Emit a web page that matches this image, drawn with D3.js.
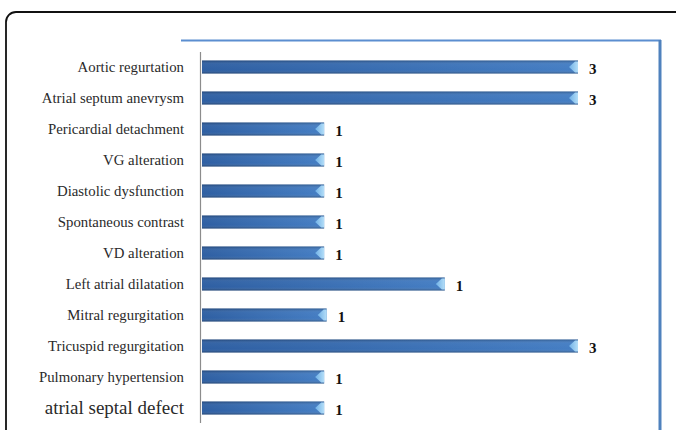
<!DOCTYPE html>
<html>
<head>
<meta charset="utf-8">
<script src="https://cdn.jsdelivr.net/npm/d3@7"></script>
<style>
  body { margin: 0; background: #fff; }
  svg { display: block; }
</style>
</head>
<body>
<div id="chart"></div>
<script>
// data (bar lengths and the numbers printed beside them)
var categories = [
  "Aortic regurtation",
  "Atrial septum anevrysm",
  "Pericardial detachment",
  "VG alteration",
  "Diastolic dysfunction",
  "Spontaneous contrast",
  "VD alteration",
  "Left atrial dilatation",
  "Mitral regurgitation",
  "Tricuspid regurgitation",
  "Pulmonary hypertension",
  "atrial septal defect"
];
var barValues = [3, 3, 0.98, 0.98, 0.98, 0.98, 0.98, 1.94, 1, 3, 0.98, 0.98];
var valueLabels = ["3", "3", "1", "1", "1", "1", "1", "1", "1", "3", "1", "1"];

const width = 676;
const height = 430;

const svg = d3.select("#chart")
  .append("svg")
  .attr("width", width)
  .attr("height", height);

// gradients for the cylinder look
var defs = svg.append("defs");
var hg = defs.append("linearGradient").attr("id", "barH")
  .attr("x1", 0).attr("x2", 1).attr("y1", 0).attr("y2", 0);
hg.append("stop").attr("offset", "0%").attr("stop-color", "#285a9f");
hg.append("stop").attr("offset", "100%").attr("stop-color", "#3f7ac2");

var vg = defs.append("linearGradient").attr("id", "barV")
  .attr("x1", 0).attr("x2", 0).attr("y1", 0).attr("y2", 1);
vg.append("stop").attr("offset", "0%").attr("stop-color", "#000").attr("stop-opacity", 0.25);
vg.append("stop").attr("offset", "30%").attr("stop-color", "#fff").attr("stop-opacity", 0.06);
vg.append("stop").attr("offset", "75%").attr("stop-color", "#fff").attr("stop-opacity", 0.03);
vg.append("stop").attr("offset", "100%").attr("stop-color", "#000").attr("stop-opacity", 0.3);

var cg = defs.append("linearGradient").attr("id", "cap")
  .attr("x1", 0).attr("x2", 1).attr("y1", 0).attr("y2", 0);
cg.append("stop").attr("offset", "0%").attr("stop-color", "#6fb0e6");
cg.append("stop").attr("offset", "100%").attr("stop-color", "#b4def8");

// outer rounded frame
svg.append("rect")
  .attr("x", 6).attr("y", 12)
  .attr("width", 720).attr("height", 500)
  .attr("rx", 10)
  .attr("fill", "none")
  .attr("stroke", "#111")
  .attr("stroke-width", 1.8);

// blue plot frame (top + right)
svg.append("line")
  .attr("x1", 181).attr("x2", 661)
  .attr("y1", 40.5).attr("y2", 40.5)
  .attr("stroke", "#5b8ed0").attr("stroke-width", 1.8);
svg.append("line")
  .attr("x1", 660).attr("x2", 660)
  .attr("y1", 40).attr("y2", height)
  .attr("stroke", "#4f81bd").attr("stroke-width", 3);

const x = d3.scaleLinear()
  .domain([0, 3])
  .range([201, 578]);

const y = d3.scaleBand()
  .domain(categories)
  .range([51.5, 423.5])
  .paddingInner(0.58)
  .paddingOuter(0.29);

// y axis line
svg.append("line")
  .attr("x1", 200.5).attr("x2", 200.5)
  .attr("y1", 52).attr("y2", 423)
  .attr("stroke", "#8c8c8c").attr("stroke-width", 1.2);

var bh = 13;
var bars = svg.append("g").selectAll("g")
  .data(categories)
  .join("g");

bars.append("rect")
  .attr("x", x(0) + 1)
  .attr("y", d => y(d) + y.bandwidth() / 2 - bh / 2)
  .attr("width", (d, i) => x(barValues[i]) - x(0) - 1)
  .attr("height", bh)
  .attr("fill", "url(#barH)");

bars.append("rect")
  .attr("x", x(0) + 1)
  .attr("y", d => y(d) + y.bandwidth() / 2 - bh / 2)
  .attr("width", (d, i) => x(barValues[i]) - x(0) - 1)
  .attr("height", bh)
  .attr("fill", "url(#barV)");

// lighter end cap
bars.append("path")
  .attr("fill", "url(#cap)")
  .attr("d", (d, i) => {
    var x1 = x(barValues[i]);
    var cy = y(d) + y.bandwidth() / 2;
    return `M${x1 - 9},${cy} L${x1 - 3},${cy - bh / 2 + 1} L${x1},${cy - bh / 2 + 1} L${x1},${cy + bh / 2 - 1} L${x1 - 3},${cy + bh / 2 - 1} Z`;
  });

// category labels
svg.append("g").selectAll("text")
  .data(categories)
  .join("text")
  .attr("x", 184)
  .attr("y", d => y(d) + y.bandwidth() / 2)
  .attr("dy", "0.33em")
  .attr("text-anchor", "end")
  .attr("font-family", "'Liberation Serif', 'Times New Roman', serif")
  .attr("font-size", (d, i) => i == categories.length - 1 ? "19px" : "14.8px")
  .attr("fill", "#2a2a2a")
  .text(d => d);

// value labels
svg.append("g").selectAll("text")
  .data(categories)
  .join("text")
  .attr("x", (d, i) => x(barValues[i]) + 11)
  .attr("y", d => y(d) + y.bandwidth() / 2 + 2)
  .attr("dy", "0.35em")
  .attr("font-family", "'Liberation Serif', 'Times New Roman', serif")
  .attr("font-weight", "bold")
  .attr("font-size", "15px")
  .attr("fill", "#111")
  .text((d, i) => valueLabels[i]);
</script>
</body>
</html>
